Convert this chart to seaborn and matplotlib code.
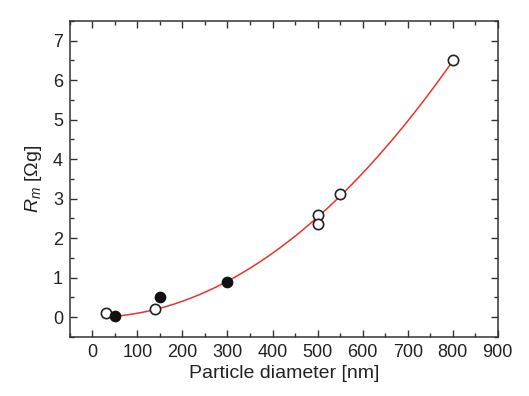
import numpy as np
import pandas as pd
import seaborn as sns
import matplotlib.pyplot as plt
from matplotlib.ticker import MultipleLocator

open_d = [30, 140, 500, 500, 550, 800]
open_r = [0.10, 0.20, 2.60, 2.35, 3.12, 6.50]
filled_d = [50, 150, 300]
filled_r = [0.03, 0.52, 0.88]

sns.set_style("ticks")
plt.rcParams['font.family'] = ['Liberation Sans', 'DejaVu Sans']
plt.rcParams['mathtext.fontset'] = 'custom'
plt.rcParams['mathtext.it'] = 'Liberation Sans:italic'
plt.rcParams['mathtext.rm'] = 'Liberation Sans'

fig = plt.figure(figsize=(5.29, 3.96), dpi=100)
ax = fig.add_axes([0.132, 0.149, 0.809, 0.798])

# least-squares fit R = c * d^2 through all points
all_d = np.array(open_d + filled_d, dtype=float)
all_r = np.array(open_r + filled_r)
c = np.sum(all_d**2 * all_r) / np.sum(all_d**4)
fit_x = np.linspace(50, 800, 200)
fit = pd.DataFrame({'d': fit_x, 'r': c * fit_x**2})
sns.lineplot(data=fit, x='d', y='r', color='#e8332e', lw=1.1, ax=ax)

sns.scatterplot(x=open_d, y=open_r, ax=ax, s=55, facecolor='white',
                edgecolor='#222222', linewidth=1.2, zorder=3)
sns.scatterplot(x=filled_d, y=filled_r, ax=ax, s=55, color='#111111',
                edgecolor='#111111', linewidth=1.0, zorder=3)

ax.set_xlim(-50, 900)
ax.set_ylim(-0.5, 7.5)
ax.xaxis.set_major_locator(MultipleLocator(100))
ax.xaxis.set_minor_locator(MultipleLocator(50))
ax.yaxis.set_major_locator(MultipleLocator(1))
ax.yaxis.set_minor_locator(MultipleLocator(0.5))
ax.tick_params(which='both', direction='in', top=True, right=True,
               color='#333333', width=1.0)
ax.tick_params(which='major', length=5, labelsize=13, pad=5, labelcolor='#222222')
ax.tick_params(which='minor', length=3)
for s in ax.spines.values():
    s.set_color('#333333')
    s.set_linewidth(1.1)

ax.set_xlabel('Particle diameter [nm]', fontsize=14, color='#222222', labelpad=3)
ax.set_ylabel(r'$R_m$ [Ωg]', fontsize=14, color='#222222', labelpad=6)

fig.savefig('out.png', dpi=100)
